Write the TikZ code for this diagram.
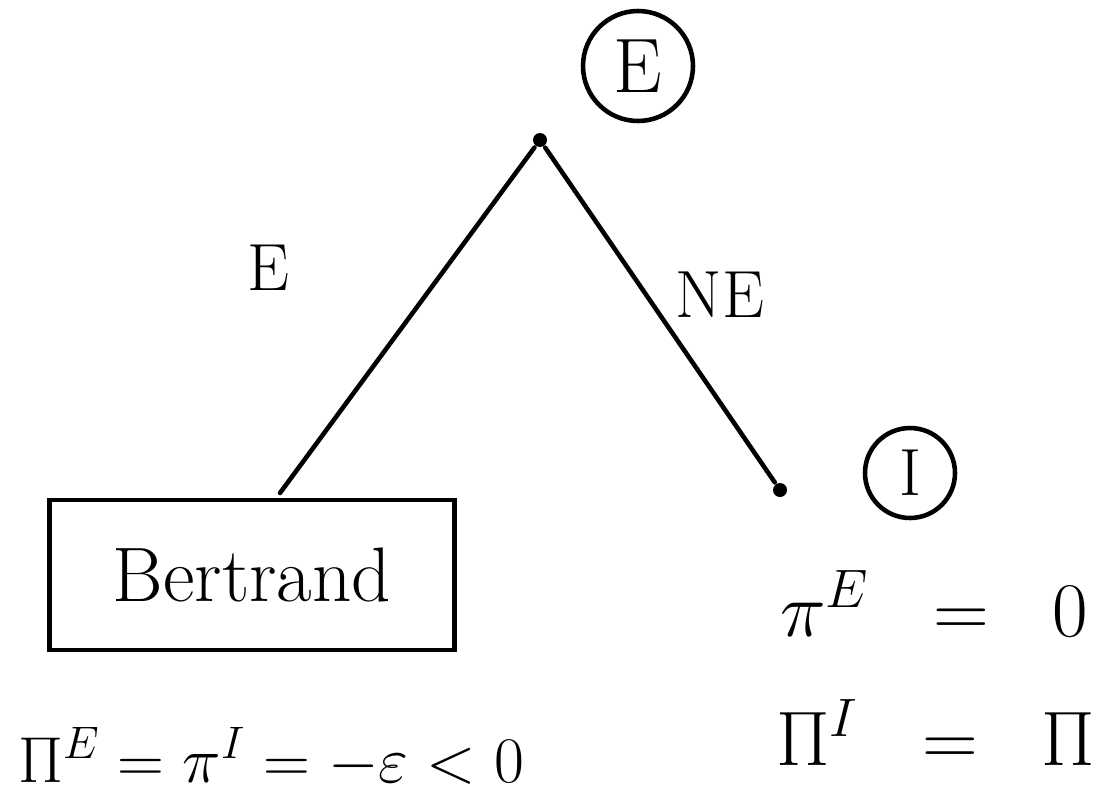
\documentclass[tikz,border=0pt]{standalone}
\usepackage{fix-cm}
\usepackage{tikz}
\usetikzlibrary{positioning}
\begin{document}
\begin{tikzpicture}[x=0.02cm, y=-0.02cm, line width=2.6pt, line cap=round,
    gamedot/.style={circle, fill, inner sep=0pt, minimum size=0.28cm},
    player/.style={circle, draw, inner sep=0pt},
    bigtext/.style={font=\fontsize{44}{52}\selectfont},
    edgelabel/.style={font=\fontsize{38}{44}\selectfont}]
  \useasboundingbox (0,0) rectangle (1102,808);

  % Entrant moves first
  \node[gamedot] (root) at (540,140) {};
  \node[player, minimum size=2.2cm, bigtext] (pE) at (638,66) {E};

  % Branches
  \coordinate (bertTop) at (280,493);
  \node[gamedot] (noentry) at (780,490) {};
  \node[player, minimum size=1.8cm, edgelabel] (pI) at (910,473) {I};
  \draw (root) -- (bertTop);
  \draw (root) -- (noentry);
  \node[edgelabel] (lblE) at (268,268) {E};
  \node[edgelabel] (lblNE) at (720,295) {NE};

  % Entry leads to Bertrand competition
  \node[draw, bigtext, minimum width=8.1cm, minimum height=3cm] (bert) at (252,575) {Bertrand};

  % Payoffs
  \node[font=\fontsize{37}{44}\selectfont, anchor=base west] (payBert) at (10,782) {$\Pi^{E} = \pi^{I} = -\varepsilon < 0$};
  \node[bigtext, anchor=base west] (payE) at (772,636) {$\pi^{E} \hspace{0.85cm}=\hspace{0.85cm} 0$};
  \node[bigtext, anchor=base west] (payI) at (768,765) {$\Pi^{I} \hspace{0.85cm}=\hspace{0.85cm} \Pi$};
\end{tikzpicture}
\end{document}
